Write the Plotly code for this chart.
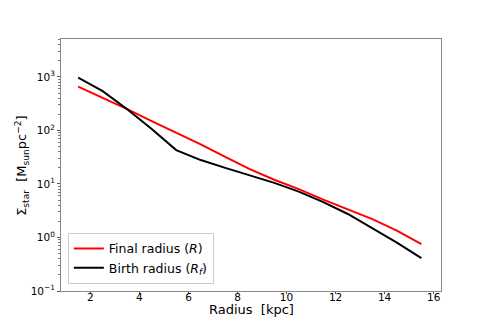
import plotly.graph_objects as go

radius = [1.5, 2.5, 3.5, 4.5, 5.5, 6.5, 7.5, 8.5, 9.5, 10.5, 11.5, 12.5, 13.5, 14.5, 15.5]
sigma_final = [660, 410, 250, 150, 92, 55, 32, 19, 12, 8.0, 5.1, 3.4, 2.2, 1.35, 0.75]
sigma_birth = [970, 545, 250, 107, 43, 28, 20, 14.5, 10.5, 7.2, 4.6, 2.75, 1.5, 0.8, 0.41]

ytick_vals = [0.1, 1, 10, 100, 1000]
ytick_text = ["10<sup>−1</sup>", "10<sup>0</sup>", "10<sup>1</sup>", "10<sup>2</sup>", "10<sup>3</sup>"]
xtick_vals = [2, 4, 6, 8, 10, 12, 14, 16]
# minor log ticks 2..9 in each decade
ytick_minor = [m * d for d in [0.1, 1, 10, 100, 1000] for m in range(2, 10)]

fig = go.Figure()
fig.add_trace(go.Scatter(x=radius, y=sigma_final, mode="lines", name="Final radius (<i>R</i>)",
                         line=dict(color="red", width=2)))
fig.add_trace(go.Scatter(x=radius, y=sigma_birth, mode="lines", name="Birth radius (<i>R<sub>f</sub></i>)",
                         line=dict(color="black", width=2)))

axis_common = dict(showline=True, linecolor="#888", linewidth=1, mirror=True, ticks="outside",
                   tickcolor="#555", showgrid=False, zeroline=False, automargin=False,
                   tickfont=dict(family="DejaVu Sans", size=10.5, color="black"))

# page body has an 8px margin, so the figure is shrunk/shifted to keep the plot box in place
fig.update_layout(
    width=483, height=319,
    margin=dict(l=53, r=50, t=31, b=36),
    plot_bgcolor="white", paper_bgcolor="white",
    font=dict(family="DejaVu Sans", color="black"),
    xaxis=dict(range=[0.8, 16.3], tickvals=xtick_vals, ticklen=2, ticklabelstandoff=-6, **axis_common),
    yaxis=dict(type="log", range=[-1, 3.71], tickvals=ytick_vals, ticktext=ytick_text, ticklen=3,
               minor=dict(tickvals=ytick_minor, ticks="outside", ticklen=2, tickcolor="#777", showgrid=False),
               **axis_common),
    legend=dict(x=0.018, y=0.028, xanchor="left", yanchor="bottom", bgcolor="white",
                bordercolor="#ccc", borderwidth=1, font=dict(size=12.5)),
    showlegend=True,
)

# axis titles placed as annotations to match the original layout
fig.add_annotation(text="Radius  [kpc]", xref="paper", yref="paper", x=0.5, y=-0.075,
                   xanchor="center", yanchor="middle", showarrow=False, font=dict(size=13))
fig.add_annotation(text="Σ<sub>star</sub>  [M<sub>sun</sub>pc<sup>−2</sup>]", xref="paper", yref="paper",
                   x=-0.103, y=0.5, xanchor="center", yanchor="middle", textangle=-90,
                   showarrow=False, font=dict(size=13))

fig.write_html("out.html")
